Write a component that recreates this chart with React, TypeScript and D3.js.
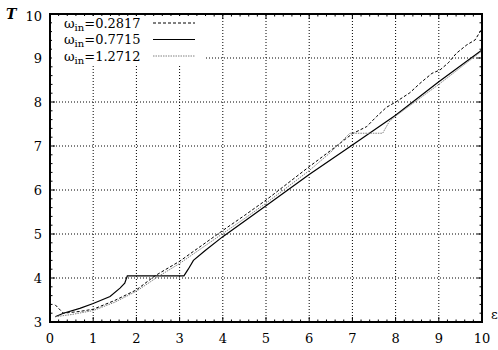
import * as d3 from "d3";
import { useRef, useEffect } from "react";

// omega_in = 0.2817 (dashed)
const epsDash = [0.12, 0.31, 0.69, 1.0, 1.5, 2.0, 2.43, 3.0, 3.5, 4.0, 4.5, 5.0, 5.5, 6.0, 6.5, 7.0, 7.33, 7.56, 7.79, 8.02, 8.33, 8.56, 8.84, 9.03, 9.22, 9.41, 9.65, 9.84, 10.0];
const tDash = [3.39, 3.2, 3.24, 3.29, 3.49, 3.73, 4.05, 4.38, 4.73, 5.08, 5.42, 5.77, 6.15, 6.53, 6.9, 7.28, 7.44, 7.67, 7.88, 8.01, 8.21, 8.42, 8.65, 8.73, 8.89, 9.11, 9.3, 9.41, 9.67];

// omega_in = 0.7715 (solid)
const epsSolid = [0.12, 0.31, 0.69, 1.0, 1.39, 1.62, 1.73, 1.79, 3.1, 3.2, 3.32, 3.6, 4.0, 5.0, 6.0, 7.0, 8.0, 9.0, 10.0];
const tSolid = [3.12, 3.2, 3.31, 3.42, 3.58, 3.77, 3.88, 4.05, 4.05, 4.2, 4.4, 4.63, 4.94, 5.64, 6.35, 7.02, 7.7, 8.46, 9.18];

// omega_in = 1.2712 (dotted grey)
const epsDot = [0.12, 0.5, 1.0, 1.5, 2.0, 2.5, 3.0, 3.5, 4.0, 4.5, 5.0, 5.5, 6.0, 6.5, 6.94, 7.7, 7.85, 8.0, 8.5, 9.0, 9.5, 10.0];
const tDot = [3.12, 3.17, 3.26, 3.45, 3.7, 4.03, 4.33, 4.67, 5.01, 5.35, 5.7, 6.07, 6.44, 6.86, 7.29, 7.29, 7.55, 7.68, 8.04, 8.4, 8.78, 9.16];

const legendLabels = ["0.2817", "0.7715", "1.2712"];
const xTicks = [0, 1, 2, 3, 4, 5, 6, 7, 8, 9, 10];
const yTicks = [3, 4, 5, 6, 7, 8, 9, 10];

export default function App() {
  const ref = useRef<SVGSVGElement>(null);

  useEffect(() => {
    const svg = d3.select(ref.current);
    svg.selectAll("*").remove();
    const font = "'DejaVu Serif', serif";

    const x = d3.scaleLinear().domain([0, 10]).range([50, 482]);
    const y = d3.scaleLinear().domain([3, 10]).range([322, 14]);
    const [x0, x1] = x.range();
    const [y0, y1] = y.range();

    // grid
    const grid = svg.append("g").attr("stroke", "#000").attr("stroke-width", 1).attr("stroke-dasharray", "1,2");
    xTicks.slice(1, -1).forEach((t) => {
      grid.append("line").attr("x1", x(t)).attr("x2", x(t)).attr("y1", y0).attr("y2", y1);
    });
    yTicks.slice(1, -1).forEach((t) => {
      grid.append("line").attr("x1", x0).attr("x2", x1).attr("y1", y(t)).attr("y2", y(t));
    });

    // ticks, mirrored, inward
    const tk = svg.append("g").attr("stroke", "#000").attr("stroke-width", 1);
    d3.range(0, 10.001, 0.2).forEach((t) => {
      const major = Math.abs(t - Math.round(t)) < 1e-6;
      const len = major ? 5 : 2.5;
      tk.append("line").attr("x1", x(t)).attr("x2", x(t)).attr("y1", y0).attr("y2", y0 - len);
      tk.append("line").attr("x1", x(t)).attr("x2", x(t)).attr("y1", y1).attr("y2", y1 + len);
    });
    d3.range(3, 10.001, 0.2).forEach((t) => {
      const major = Math.abs(t - Math.round(t)) < 1e-6;
      const len = major ? 5 : 2.5;
      tk.append("line").attr("x1", x0).attr("x2", x0 + len).attr("y1", y(t)).attr("y2", y(t));
      tk.append("line").attr("x1", x1).attr("x2", x1 - len).attr("y1", y(t)).attr("y2", y(t));
    });

    // legend background
    svg.append("rect").attr("x", 52).attr("y", 16).attr("width", 154).attr("height", 48).attr("fill", "#fff");

    const series = [
      { xs: epsDash, ts: tDash, stroke: "#000", dash: "3,2", w: 1 },
      { xs: epsSolid, ts: tSolid, stroke: "#000", dash: null, w: 1.2 },
      { xs: epsDot, ts: tDot, stroke: "#808080", dash: "1.5,1", w: 1 },
    ];
    series.forEach((s) => {
      const pts = s.xs.map((e, i) => [x(e), y(s.ts[i])] as [number, number]);
      svg.append("path")
        .attr("d", d3.line()(pts))
        .attr("fill", "none")
        .attr("stroke", s.stroke)
        .attr("stroke-width", s.w)
        .attr("stroke-dasharray", s.dash);
    });

    // frame
    svg.append("rect").attr("x", x0).attr("y", y1).attr("width", x1 - x0).attr("height", y0 - y1)
      .attr("fill", "none").attr("stroke", "#000").attr("stroke-width", 2);

    // tick labels
    xTicks.forEach((t) => {
      svg.append("text").attr("x", x(t)).attr("y", 343).attr("text-anchor", "middle")
        .style("font-family", font).style("font-size", "13px").text(t);
    });
    yTicks.forEach((t) => {
      svg.append("text").attr("x", 42).attr("y", y(t) + (t === 10 ? 7 : 4.5)).attr("text-anchor", "end")
        .style("font-family", font).style("font-size", "13px").text(t);
    });

    // axis names
    svg.append("text").attr("x", 6).attr("y", 18.5).style("font-family", font)
      .style("font-style", "italic").style("font-weight", "bold").style("font-size", "14px").text("T");
    svg.append("text").attr("x", 491).attr("y", 319).style("font-family", font)
      .style("font-size", "13px").text("ε");

    // legend
    const baselines = [27.5, 44, 60.5];
    legendLabels.forEach((lab, i) => {
      const s = series[i];
      const t = svg.append("text").attr("x", 64).attr("y", baselines[i])
        .style("font-family", font).style("font-size", "13px");
      t.append("tspan").text("ω");
      t.append("tspan").attr("dy", 3).style("font-size", "10px").text("in");
      t.append("tspan").attr("dy", -3).text("=" + lab);
      svg.append("line").attr("x1", 153).attr("x2", 195)
        .attr("y1", baselines[i] - 4.5).attr("y2", baselines[i] - 4.5)
        .attr("stroke", s.stroke).attr("stroke-width", s.w).attr("stroke-dasharray", s.dash);
    });
  }, []);

  return (
    <svg ref={ref} width={498} height={350}
      style={{ position: "absolute", left: 0, top: 0, background: "#fff" }} />
  );
}
